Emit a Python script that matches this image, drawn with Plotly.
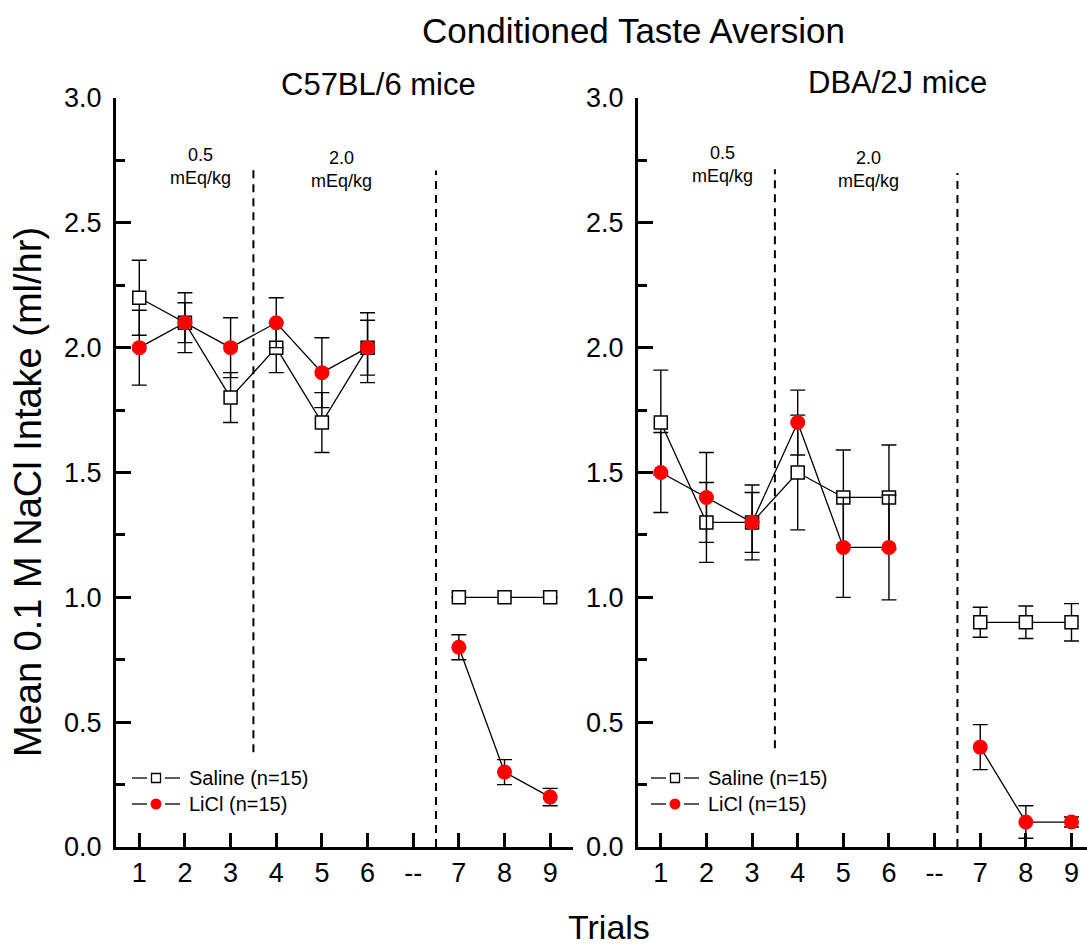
import plotly.graph_objects as go

# ---- data -----------------------------------------------------------------
trials = [1, 2, 3, 4, 5, 6, 7, 8, 9]
tick_labels = ["1", "2", "3", "4", "5", "6", "--", "7", "8", "9"]

c57_saline = [2.2, 2.1, 1.8, 2.0, 1.7, 2.0, 1.0, 1.0, 1.0]
c57_saline_err = [0.15, 0.12, 0.10, 0.10, 0.12, 0.14, 0.0, 0.0, 0.0]
c57_licl = [2.0, 2.1, 2.0, 2.1, 1.9, 2.0, 0.8, 0.3, 0.2]
c57_licl_err = [0.15, 0.08, 0.12, 0.10, 0.14, 0.11, 0.05, 0.05, 0.035]

dba_saline = [1.7, 1.3, 1.3, 1.5, 1.4, 1.4, 0.9, 0.9, 0.9]
dba_saline_err = [0.21, 0.16, 0.15, 0.23, 0.19, 0.21, 0.06, 0.065, 0.075]
dba_licl = [1.5, 1.4, 1.3, 1.7, 1.2, 1.2, 0.4, 0.1, 0.1]
dba_licl_err = [0.16, 0.18, 0.12, 0.13, 0.20, 0.21, 0.09, 0.065, 0.02]

series_names = ["Saline (n=15)", "LiCl (n=15)"]

W, H = 1087, 947
FONT = "Liberation Sans, Arial, sans-serif"
RED = "#ff0000"


def px(x):
    return x / W


def py(y):
    return 1 - y / H


def with_gap(values):
    """Place trials on the axis, leaving slot 7 ('--') empty so the line breaks."""
    xs, ys = [], []
    for t, v in zip(trials, values):
        if t == 7:
            xs.append(7)
            ys.append(None)
        xs.append(t if t <= 6 else t + 1)
        ys.append(v)
    return xs, ys


def err_with_gap(errs):
    out = []
    for t, e in zip(trials, errs):
        if t == 7:
            out.append(0)
        out.append(e)
    return out


fig = go.Figure()

panels = [
    ("x", "y", c57_saline, c57_saline_err, c57_licl, c57_licl_err),
    ("x2", "y2", dba_saline, dba_saline_err, dba_licl, dba_licl_err),
]

for xa, ya, sal, sal_e, li, li_e in panels:
    xs, ys = with_gap(sal)
    fig.add_trace(go.Scatter(
        x=xs, y=ys, xaxis=xa, yaxis=ya, showlegend=False,
        name=series_names[0], mode="lines+markers", connectgaps=False,
        line=dict(color="black", width=1.3),
        marker=dict(symbol="square", size=13, color="white",
                    line=dict(color="black", width=1.5)),
        error_y=dict(type="data", array=err_with_gap(sal_e), visible=True,
                     color="black", thickness=1.4, width=7.5),
    ))
    xs, ys = with_gap(li)
    fig.add_trace(go.Scatter(
        x=xs, y=ys, xaxis=xa, yaxis=ya, showlegend=False,
        name=series_names[1], mode="lines+markers", connectgaps=False,
        line=dict(color="black", width=1.3),
        marker=dict(symbol="circle", size=15, color=RED, line=dict(width=0)),
        error_y=dict(type="data", array=err_with_gap(li_e), visible=True,
                     color="black", thickness=1.4, width=7.5),
    ))

# ---- axes -----------------------------------------------------------------
ydom = [py(847), py(98)]
common_x = dict(
    tickmode="array", tickvals=list(range(1, 11)), ticktext=tick_labels,
    ticks="inside", ticklen=14, tickwidth=2.5, tickcolor="black",
    showline=True, linewidth=3, linecolor="black", showgrid=False,
    zeroline=False, tickfont=dict(family=FONT, size=27, color="black"),
    automargin=False, fixedrange=True,
)
common_y = dict(
    range=[0, 3], tickmode="array", tickvals=[0, 0.5, 1, 1.5, 2, 2.5, 3],
    ticktext=["0.0", "0.5", "1.0", "1.5", "2.0", "2.5", "3.0"],
    ticks="inside", ticklen=15, tickwidth=2.5, tickcolor="black",
    minor=dict(tickvals=[0.25, 0.75, 1.25, 1.75, 2.25, 2.75], ticks="inside",
               ticklen=9, tickwidth=2.5, tickcolor="black"),
    showline=True, linewidth=3, linecolor="black", showgrid=False,
    zeroline=False, tickfont=dict(family=FONT, size=27, color="black"),
    ticklabelstandoff=6, domain=ydom, automargin=False, fixedrange=True,
)

fig.update_layout(
    width=W, height=H,
    margin=dict(l=0, r=0, t=0, b=0, pad=0, autoexpand=False),
    paper_bgcolor="white", plot_bgcolor="white",
    font=dict(family=FONT, color="black"),
    xaxis=dict(common_x, domain=[px(116), px(573)], range=[0.49, 10.5], anchor="y"),
    yaxis=dict(common_y, anchor="x"),
    xaxis2=dict(common_x, domain=[px(638), 1.0], range=[0.5, 10.34], anchor="y2"),
    yaxis2=dict(common_y, anchor="x2"),
    showlegend=False,
)

# ---- dashed phase separators ------------------------------------------------
dash = "8px,6px"
separators = [
    ("x", "y", 3.5, 0.38, 2.727),
    ("x", "y", 7.5, 0.0, 2.71),
    ("x2", "y2", 3.5, 0.396, 2.715),
    ("x2", "y2", 7.5, 0.0, 2.70),
]
for xr, yr, xv, y0, y1 in separators:
    fig.add_shape(type="line", xref=xr, yref=yr, x0=xv, x1=xv, y0=y0, y1=y1,
                  line=dict(color="black", width=2, dash=dash), layer="below")

# ---- per-panel key ----------------------------------------------------------
for x0 in (132, 651):
    for row, (yrow, name) in enumerate(zip((778, 804), series_names)):
        for a, b in ((x0, x0 + 15), (x0 + 33, x0 + 48)):
            fig.add_shape(type="line", xref="paper", yref="paper",
                          x0=px(a), x1=px(b), y0=py(yrow), y1=py(yrow),
                          line=dict(color="black", width=1.3))
        cx = x0 + 24
        if row == 0:
            fig.add_shape(type="rect", xref="paper", yref="paper",
                          x0=px(cx - 4.5), x1=px(cx + 4.5),
                          y0=py(yrow + 4.5), y1=py(yrow - 4.5),
                          fillcolor="white", line=dict(color="black", width=1.3))
        else:
            fig.add_shape(type="circle", xref="paper", yref="paper",
                          x0=px(cx - 5.5), x1=px(cx + 5.5),
                          y0=py(yrow + 5.5), y1=py(yrow - 5.5),
                          fillcolor=RED, line=dict(width=0))
        fig.add_annotation(xref="paper", yref="paper", x=px(x0 + 55), y=py(yrow),
                           text=name, showarrow=False, xanchor="left",
                           yanchor="middle",
                           font=dict(family=FONT, size=20, color="black"))

# ---- text -----------------------------------------------------------------
dose_labels = [
    ("x", "y", 2.33, 2.725, "0.5<br>mEq/kg"),
    ("x", "y", 5.42, 2.715, "2.0<br>mEq/kg"),
    ("x2", "y2", 2.35, 2.735, "0.5<br>mEq/kg"),
    ("x2", "y2", 5.55, 2.715, "2.0<br>mEq/kg"),
]
for xr, yr, xv, yv, txt in dose_labels:
    fig.add_annotation(xref=xr, yref=yr, x=xv, y=yv, text=txt, showarrow=False,
                       font=dict(family=FONT, size=18, color="black"),
                       xanchor="center", yanchor="middle")

texts = [
    ("Conditioned Taste Aversion", 633, 31, 35, 0),
    ("C57BL/6 mice", 378, 84, 31, 0),
    ("DBA/2J mice", 897, 82, 31, 0),
    ("Trials", 609, 927, 34, 0),
    ("Mean 0.1 M NaCl Intake (ml/hr)", 28, 492, 38, -90),
]
for txt, x, y, size, ang in texts:
    fig.add_annotation(xref="paper", yref="paper", x=px(x), y=py(y), text=txt,
                       showarrow=False, textangle=ang,
                       font=dict(family=FONT, size=size, color="black"),
                       xanchor="center", yanchor="middle")

fig.write_html("out.html")
